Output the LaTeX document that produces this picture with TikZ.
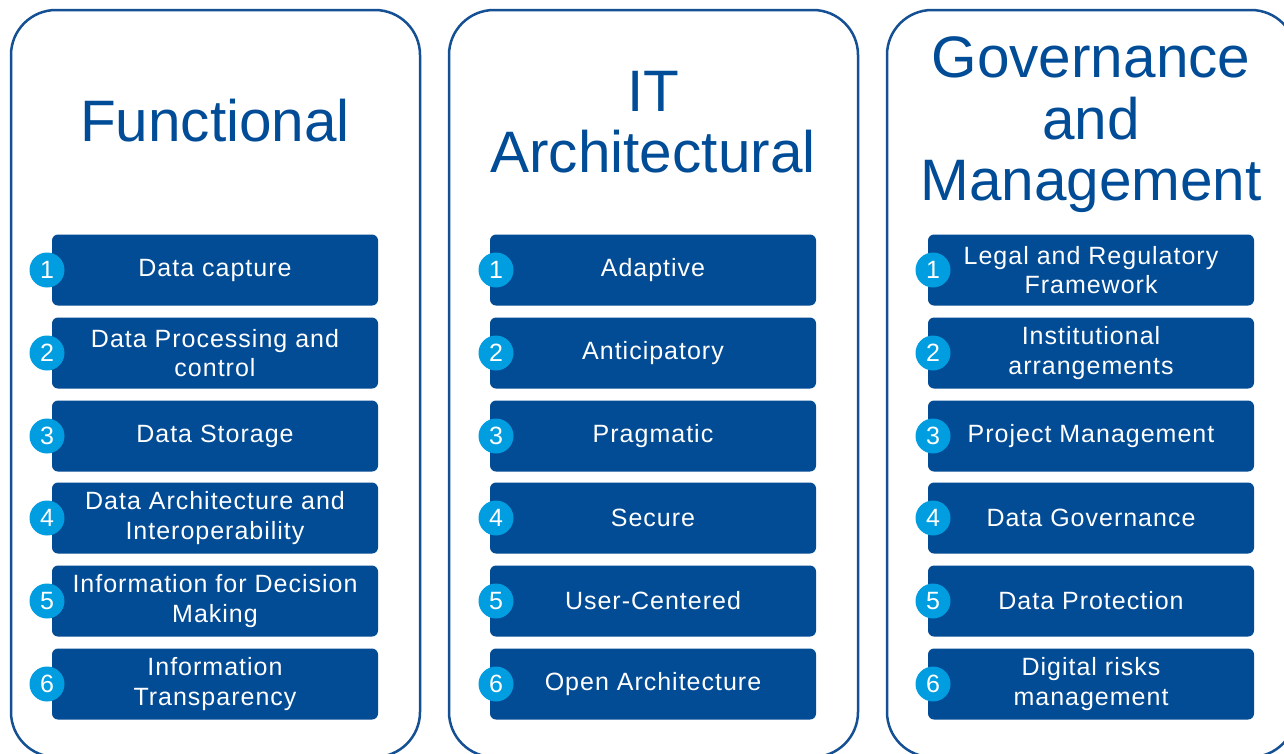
\documentclass[tikz,border=0pt]{standalone}
\usepackage{fontspec}
\setmainfont{Liberation Sans}
\newfontfamily\itemfont[LetterSpace=4]{Liberation Sans}

\definecolor{panelblue}{RGB}{22,80,148}
\definecolor{titleblue}{RGB}{0,76,151}
\definecolor{boxblue}{RGB}{2,75,149}
\definecolor{badgecyan}{RGB}{0,158,224}

\begin{document}
\begin{tikzpicture}[x=1pt,y=-1pt,
  panel/.style={draw=panelblue, line width=2.5pt, rounded corners=45pt,
    minimum width=409pt, minimum height=747pt, inner sep=0pt},
  heading/.style={text=titleblue, font=\fontsize{58.5}{61.5}\selectfont,
    align=center, inner sep=0pt},
  itembox/.style={fill=boxblue, rounded corners=6pt, minimum width=326pt,
    minimum height=71pt, text=white, align=center, inner sep=2pt,
    font=\itemfont\fontsize{25}{29.5}\selectfont},
  badge/.style={circle, fill=badgecyan, minimum size=35pt, inner sep=0pt,
    text=white, font=\fontsize{25}{25}\selectfont}]

\useasboundingbox (0,0) rectangle (1284,753);
\fill[white] (0,0) rectangle (1284,753);

% three column frames
\node[panel] (p1) at (215.5,383.5) {};
\node[panel] (p2) at (653.5,383.5) {};
\node[panel] (p3) at (1091.5,383.5) {};

% column headings
\node[heading] (t1) at (215,121) {Functional};
\node[heading] (t2) at (653,122) {IT\\Architectural};
\node[heading] (t3) at (1091,125) {Governance\\and\\Management};

% functional
\foreach \i/\y/\t in {1/270/{Data capture},
                      2/353/{Data Processing and\\control},
                      3/436/{Data Storage},
                      4/518/{Data Architecture and\\Interoperability},
                      5/601/{Information for Decision\\Making},
                      6/684/{Information\\Transparency}}{
  \node[itembox] (f\i) at (215,\y) {\t};
  \node[badge] (bf\i) at (47,\y) {\i};
}

% IT architectural
\foreach \i/\y/\t in {1/270/{Adaptive},
                      2/353/{Anticipatory},
                      3/436/{Pragmatic},
                      4/518/{Secure},
                      5/601/{User-Centered},
                      6/684/{Open Architecture}}{
  \node[itembox] (a\i) at (653,\y) {\t};
  \node[badge] (ba\i) at (496,\y) {\i};
}

% governance and management
\foreach \i/\y/\t in {1/270/{Legal and Regulatory\\Framework},
                      2/353/{Institutional\\arrangements},
                      3/436/{Project Management},
                      4/518/{Data Governance},
                      5/601/{Data Protection},
                      6/684/{Digital risks\\management}}{
  \node[itembox] (g\i) at (1091,\y) {\t};
  \node[badge] (bg\i) at (933,\y) {\i};
}
\end{tikzpicture}
\end{document}
